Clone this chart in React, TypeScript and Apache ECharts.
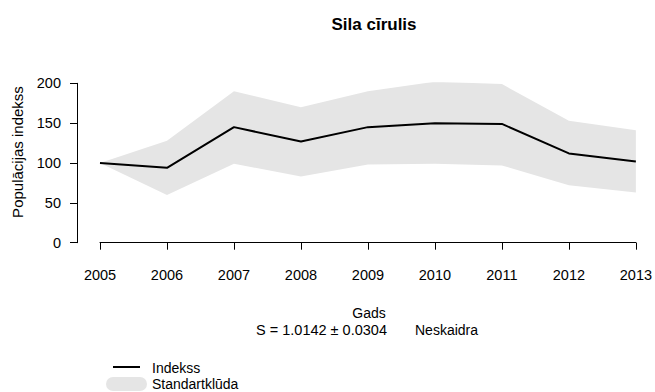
import React, { useEffect, useRef } from "react";
import * as echarts from "echarts";

const years = ["2005", "2006", "2007", "2008", "2009", "2010", "2011", "2012", "2013"];
const index = [100, 94, 145, 127, 145, 150, 149, 112, 102];
const upper = [100, 128, 190, 170, 190, 202, 199, 153, 141];
const lower = [100, 60, 99, 83, 98, 99, 97, 72, 63];
const yTicks = [0, 50, 100, 150, 200];

const FONT = "'Liberation Sans', Arial, sans-serif";

export default function App() {
  const ref = useRef<HTMLDivElement>(null);
  useEffect(() => {
    if (!ref.current) return;
    const chart = echarts.init(ref.current, null, { renderer: "svg" });
    const diff = upper.map((u, i) => u - lower[i]);
    chart.setOption({
      animation: false,
      backgroundColor: "#ffffff",
      textStyle: { fontFamily: FONT },
      title: {
        text: "Sila cīrulis",
        left: 369,
        textAlign: "center",
        top: 11,
        textStyle: { fontFamily: FONT, fontSize: 17, fontWeight: "bold", color: "#000" },
      },
      grid: { left: 100, right: 17, top: 83.3, bottom: 149.3, containLabel: false },
      xAxis: {
        type: "category",
        data: years,
        boundaryGap: false,
        offset: 8,
        axisLine: { show: true, lineStyle: { color: "#000", width: 1 } },
        axisTick: { show: true, length: 7, alignWithLabel: true, lineStyle: { color: "#000" } },
        axisLabel: { margin: 17, fontSize: 14.5, color: "#000", fontFamily: FONT, interval: 0 },
        splitLine: { show: false },
      },
      yAxis: {
        type: "value",
        min: yTicks[0],
        max: yTicks[yTicks.length - 1],
        interval: 50,
        offset: 23,
        axisLine: { show: true, lineStyle: { color: "#000", width: 1 } },
        axisTick: { show: true, length: 7, lineStyle: { color: "#000" } },
        axisLabel: { margin: 16, fontSize: 14.5, color: "#000", fontFamily: FONT },
        splitLine: { show: false },
      },
      series: [
        {
          name: "lower",
          type: "line",
          stack: "band",
          data: lower,
          symbol: "none",
          lineStyle: { opacity: 0 },
          silent: true,
        },
        {
          name: "Standartklūda",
          type: "line",
          stack: "band",
          data: diff,
          symbol: "none",
          lineStyle: { opacity: 0 },
          areaStyle: { color: "#e5e5e5", opacity: 1 },
          silent: true,
        },
        {
          name: "Indekss",
          type: "line",
          data: index,
          symbol: "none",
          lineStyle: { color: "#000", width: 2 },
          z: 5,
        },
      ],
      graphic: [
        {
          type: "text",
          x: 17.5,
          y: 152,
          rotation: Math.PI / 2,
          style: {
            text: "Populācijas indekss",
            font: `15px ${FONT}`,
            fill: "#000",
            align: "center",
            verticalAlign: "middle",
          },
        },
        {
          type: "text",
          x: 369,
          y: 313,
          style: { text: "Gads", font: `14px ${FONT}`, fill: "#000", align: "center", verticalAlign: "middle" },
        },
        {
          type: "text",
          x: 321.5,
          y: 330,
          style: {
            text: "S = 1.0142 ± 0.0304",
            font: `14.5px ${FONT}`,
            fill: "#000",
            align: "center",
            verticalAlign: "middle",
          },
        },
        {
          type: "text",
          x: 415,
          y: 330,
          style: { text: "Neskaidra", font: `14px ${FONT}`, fill: "#000", align: "left", verticalAlign: "middle" },
        },
        {
          type: "line",
          shape: { x1: 113, y1: 367, x2: 140, y2: 367 },
          style: { stroke: "#000", lineWidth: 2 },
        },
        {
          type: "text",
          x: 152,
          y: 368,
          style: { text: "Indekss", font: `14px ${FONT}`, fill: "#000", align: "left", verticalAlign: "middle" },
        },
        {
          type: "rect",
          shape: { x: 106, y: 377, width: 41, height: 14, r: 7 },
          style: { fill: "#e5e5e5" },
        },
        {
          type: "text",
          x: 152,
          y: 384,
          style: { text: "Standartklūda", font: `14px ${FONT}`, fill: "#000", align: "left", verticalAlign: "middle" },
        },
      ],
    });
    return () => chart.dispose();
  }, []);
  return (
    <div
      ref={ref}
      style={{ position: "absolute", left: 0, top: 0, width: 655, height: 392, overflow: "hidden" }}
    />
  );
}
